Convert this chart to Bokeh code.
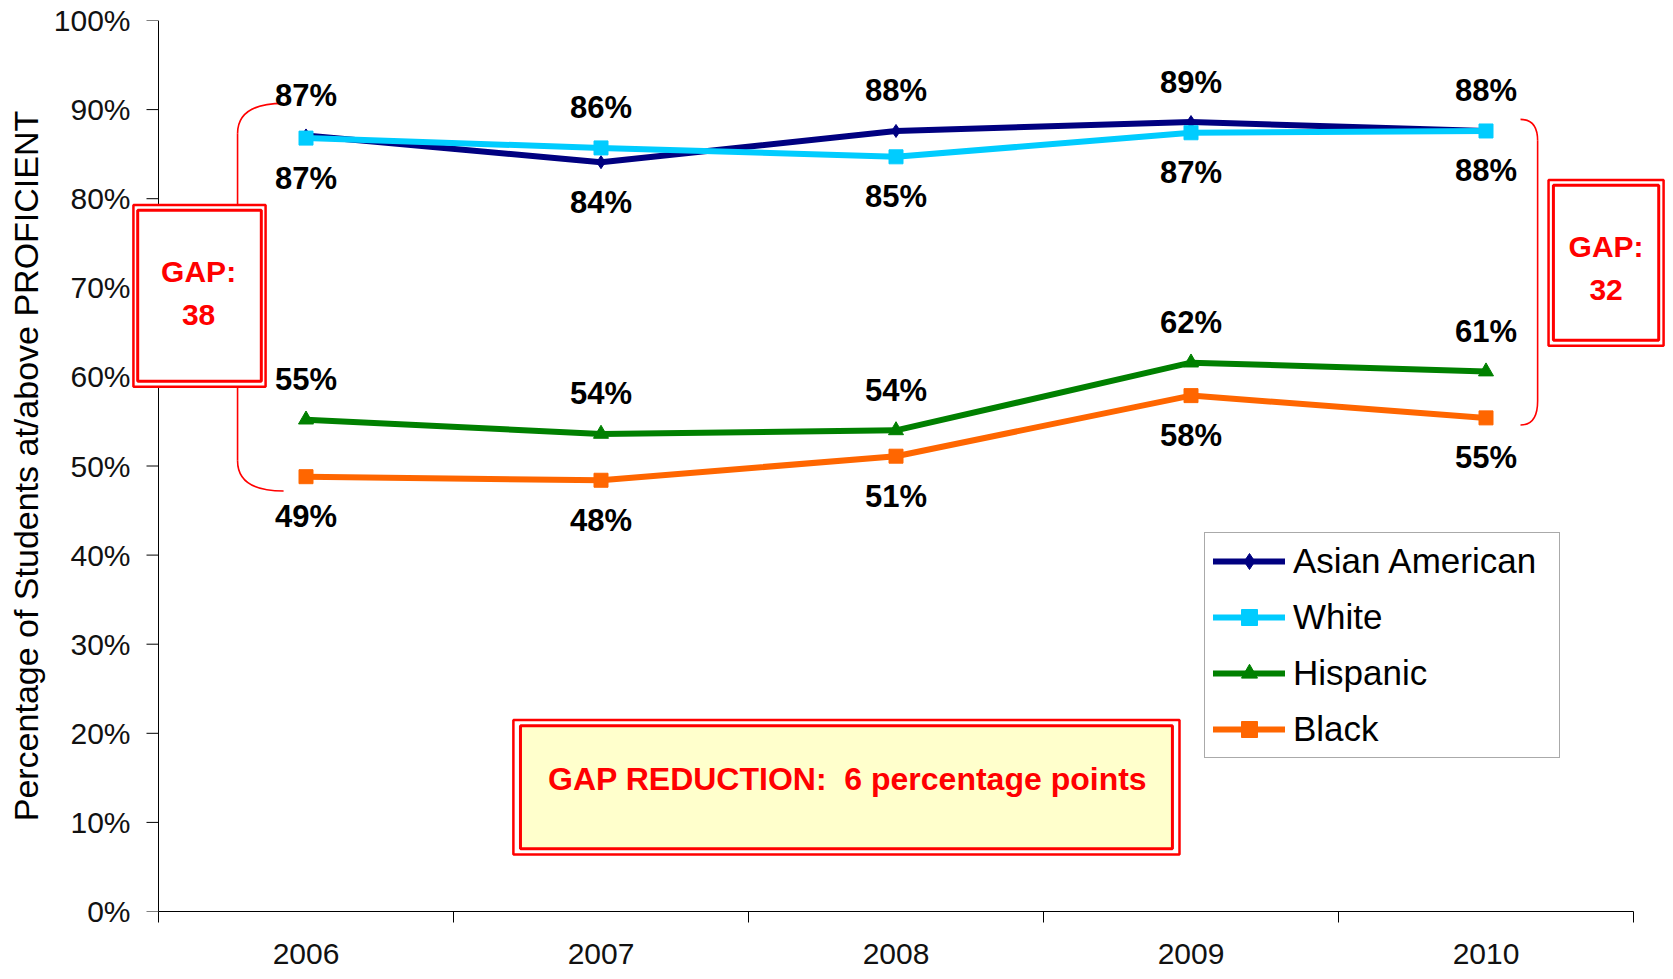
from bokeh.plotting import figure
from bokeh.models import (Range1d, FixedTicker, ColumnDataSource, LabelSet, Legend,
                          LegendItem, BoxAnnotation, Label)
from bokeh.core.properties import value
from bokeh.embed import file_html
from bokeh.resources import INLINE

# ---------------- data ----------------
years = ["2006", "2007", "2008", "2009", "2010"]
asian = [87.1, 84.1, 87.6, 88.6, 87.6]
white = [86.8, 85.7, 84.7, 87.4, 87.6]
hispanic = [55.2, 53.6, 54.0, 61.6, 60.6]
black = [48.8, 48.4, 51.1, 57.9, 55.4]
y_ticks = [0, 10, 20, 30, 40, 50, 60, 70, 80, 90, 100]
series_names = ["Asian American", "White", "Hispanic", "Black"]
gap_first = "GAP:\n38"
gap_last = "GAP:\n32"
reduction_text = "GAP REDUCTION:\u00a0 6 percentage points"
y_title = "Percentage of Students at/above PROFICIENT"

# ---------------- styles ----------------
FONT = "Liberation Sans"
colors = ["#000080", "#00CCFF", "#008000", "#FF6600"]
markers = ["diamond", "square", "triangle", "square"]
msizes = [13, 14, 15, 14]
RED = "#FF0000"
CAT_PX = 295.0          # pixel width of one year slot
FRAME_LEFT = 130        # frame starts left of the y axis so the gap box can overlap it
AXIS_PX = 158           # pixel position of the y axis line

n = len(years)
xs = [i + 0.5 for i in range(n)]

W, H = 1665, 971
x_start = (FRAME_LEFT - AXIS_PX) / CAT_PX
x_end = x_start + (W - FRAME_LEFT) / CAT_PX

p = figure(width=W, height=H, output_backend="svg", toolbar_location=None,
           x_range=Range1d(x_start, x_end), y_range=Range1d(0, 100),
           min_border_left=FRAME_LEFT, min_border_right=0, min_border_top=20,
           min_border_bottom=60)
p.outline_line_color = None
p.ygrid.visible = False
p.background_fill_color = "white"
p.border_fill_color = "white"

# vertical axis line at x = 0 (the grid line of the x dimension)
p.xgrid.ticker = FixedTicker(ticks=[0])
p.xgrid.grid_line_color = "black"
p.xgrid.grid_line_width = 1

# x axis: labels at category centres, ticks at category boundaries
p.xaxis.bounds = (0, n)
p.xaxis.ticker = FixedTicker(ticks=xs, minor_ticks=list(range(n + 1)))
p.xaxis.major_label_overrides = {x: y for x, y in zip(xs, years)}
p.xaxis.major_tick_out = 0
p.xaxis.major_tick_in = 0
p.xaxis.minor_tick_out = 11
p.xaxis.minor_tick_in = 0
p.xaxis.minor_tick_line_color = "black"
p.xaxis.major_label_standoff = 21
p.xaxis.major_label_text_font = FONT
p.xaxis.major_label_text_font_size = "30px"
p.xaxis.major_label_text_color = "#111111"
p.xaxis.axis_line_color = "black"

# y axis: tick labels and title (line and tick marks drawn at x = 0)
p.yaxis.ticker = FixedTicker(ticks=y_ticks, minor_ticks=[])
p.yaxis.major_label_overrides = {t: f"{t}%" for t in y_ticks}
p.yaxis.axis_line_color = None
p.yaxis.major_tick_line_color = None
p.yaxis.major_tick_out = 0
p.yaxis.major_tick_in = 0
p.yaxis.major_label_standoff = 0
p.yaxis.major_label_text_font = FONT
p.yaxis.major_label_text_font_size = "30px"
p.yaxis.major_label_text_color = "#111111"
p.yaxis.axis_label = y_title
p.yaxis.axis_label_text_font = FONT
p.yaxis.axis_label_text_font_size = "34px"
p.yaxis.axis_label_text_font_style = "normal"
p.yaxis.axis_label_text_color = "black"
p.yaxis.axis_label_standoff = 6

# tick marks of the y axis (12 px, outward)
p.segment(x0=[-12 / CAT_PX] * len(y_ticks), x1=[0] * len(y_ticks), y0=y_ticks, y1=y_ticks,
          line_color="black", line_width=1)

# ---------------- brackets (drawn first so boxes cover them) ----------------
p.line([0.268, 0.268], [87.3, 50.6], line_color=RED, line_width=1.6)
p.quadratic(x0=[0.268], y0=[87.3], x1=[0.424], y1=[90.7], cx=[0.268], cy=[90.7],
            line_color=RED, line_width=1.6)
p.quadratic(x0=[0.268], y0=[50.6], x1=[0.424], y1=[47.2], cx=[0.268], cy=[47.2],
            line_color=RED, line_width=1.6)
p.line([4.675, 4.675], [86.5, 57.3], line_color=RED, line_width=1.6)
p.quadratic(x0=[4.617], y0=[88.9], x1=[4.675], y1=[86.5], cx=[4.675], cy=[88.9],
            line_color=RED, line_width=1.6)
p.quadratic(x0=[4.675], y0=[57.3], x1=[4.617], y1=[54.6], cx=[4.675], cy=[54.6],
            line_color=RED, line_width=1.6)

# ---------------- series ----------------
all_vals = [asian, white, hispanic, black]
items = []
for name, vals, col, mk, ms in zip(series_names, all_vals, colors, markers, msizes):
    src = ColumnDataSource(dict(x=xs, y=vals))
    lr = p.line("x", "y", source=src, line_color=col, line_width=6, line_cap="round")
    sr = p.scatter("x", "y", source=src, marker=mk, size=ms, fill_color=col, line_color=col)
    items.append(LegendItem(label=name, renderers=[lr, sr]))

# ---------------- data labels ----------------
above = dict(x=[], y=[], t=[])
below = dict(x=[], y=[], t=[])
for hi, lo in [(asian, white), (hispanic, black)]:
    for x, a, b in zip(xs, hi, lo):
        top, bot = (a, b) if a >= b else (b, a)
        above["x"].append(x); above["y"].append(top); above["t"].append(f"{round(top)}%")
        below["x"].append(x); below["y"].append(bot); below["t"].append(f"{round(bot)}%")

for d, off in [(above, 40), (below, -40)]:
    p.add_layout(LabelSet(x="x", y="y", text="t", source=ColumnDataSource(d), y_offset=off,
                          text_align="center", text_baseline="middle",
                          text_font=value(FONT), text_font_size=value("31px"),
                          text_font_style="bold", text_color="black"))

# ---------------- legend ----------------
legend = Legend(items=items, location=(1074, 153), margin=0, padding=8, spacing=16,
                glyph_width=72, glyph_height=40, label_height=40, label_width=258,
                label_standoff=8,
                label_text_font=FONT, label_text_font_size="35px",
                label_text_color="black",
                border_line_color="#555555", border_line_width=1.3,
                background_fill_color="white", background_fill_alpha=1.0)
p.add_layout(legend, "center")

# ---------------- gap boxes ----------------
def double_box(l, r, b, t, fill, inset_x, inset_y):
    p.add_layout(BoxAnnotation(left=l, right=r, bottom=b, top=t, fill_color="white",
                               fill_alpha=1.0, line_color=RED, line_alpha=1.0,
                               line_width=2.5))
    p.add_layout(BoxAnnotation(left=l + inset_x, right=r - inset_x, bottom=b + inset_y,
                               top=t - inset_y, fill_color=fill, fill_alpha=1.0,
                               line_color=RED, line_alpha=1.0, line_width=3))

double_box(-0.085, 0.363, 58.9, 79.3, "white", 0.0145, 0.6)
double_box(4.712, 5.102, 63.5, 82.1, "white", 0.0165, 0.6)
double_box(1.203, 3.461, 6.4, 21.5, "#FFFFCC", 0.024, 0.65)

for (x, y, txt) in [(0.136, 69.4, gap_first), (4.907, 72.2, gap_last)]:
    p.add_layout(Label(x=x, y=y, text=txt, text_align="center", text_baseline="middle",
                       text_font=FONT, text_font_size="30px", text_font_style="bold",
                       text_color=RED, text_line_height=1.3))

p.add_layout(Label(x=2.336, y=14.9, text=reduction_text, text_align="center",
                   text_baseline="middle", text_font=FONT, text_font_size="32px",
                   text_font_style="bold", text_color=RED))

open("out.html", "w").write(file_html(p, INLINE))
